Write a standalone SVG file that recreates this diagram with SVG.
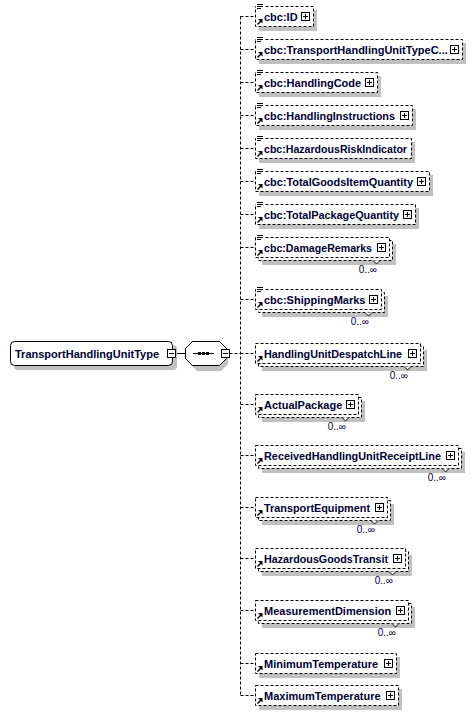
<svg xmlns="http://www.w3.org/2000/svg" width="472" height="715" viewBox="0 0 472 715">
<style>
.sh{fill:#c0c0c0}
.bx{fill:#fff;stroke:#000;stroke-width:1;stroke-dasharray:3 2}
.sb{fill:#fff;stroke:#000;stroke-width:1}
.t{font-family:"Liberation Sans",Arial,sans-serif;font-weight:bold;font-size:11px;fill:#000033}
.m{font-family:"Liberation Sans",Arial,sans-serif;font-size:10px;fill:#000033}
.cn{fill:none;stroke:#000;stroke-width:1;stroke-dasharray:3 2}
.ln{fill:none;stroke:#000;stroke-width:1}
</style>
<defs>
<g id="doc"><rect x="256" y="-13" width="8" height="6" fill="#fff"/><path d="M257 -11.5h6M257 -9.5h6M257 -7.5h4" class="ln"/></g>
<g id="ref"><path d="M257.5 8.5L261 5" stroke="#000" stroke-width="1.4"/><path d="M262.5 3L262.5 7.5L258 3Z" fill="#000"/></g>
<g id="plus"><rect x="0.5" y="-3.5" width="8" height="8" class="sb"/><path d="M2 0.5h5M4.5 -2v5" class="ln"/></g>
<g id="minus"><rect x="0.5" y="-3.5" width="8" height="8" class="sb"/><path d="M2 0.5h5" class="ln"/></g>
</defs>

<g id="connectors">
<path class="ln" d="M175.5 353.5H185.5"/>
<path class="cn" d="M229.5 353.5H240.5"/>
<path class="cn" d="M240.5 16.5V695.5"/>
<path class="cn" d="M240.5 16.5H255M240.5 49.5H255M240.5 82.5H255M240.5 115.5H255M240.5 148.5H255M240.5 181.5H255M240.5 214.5H255M240.5 247.5H255M240.5 299.5H255M240.5 353.5H255M240.5 404.5H255M240.5 455.5H255M240.5 507.5H255M240.5 558.5H255M240.5 610.5H255M240.5 663.5H255M240.5 695.5H255"/>
</g>

<g id="root">
<rect class="sh" x="14" y="345" width="163" height="25" rx="4"/>
<rect class="sb" x="10.5" y="341.5" width="162" height="24" rx="4"/>
<text class="t" x="15" y="357.5">TransportHandlingUnitType</text>
<use href="#minus" x="167" y="353"/>
</g>

<g id="sequence">
<path class="sh" d="M195 345H219L226 352V364L219 371H195L188 364V352Z" transform="translate(2,0)"/>
<path class="sb" d="M192.5 341.5H219.5L226.5 348.5V358.5L219.5 365.5H192.5L185.5 358.5V348.5Z"/>
<path class="ln" d="M193 353.5H214"/>
<rect x="198" y="352" width="3" height="3" fill="#000"/>
<rect x="202" y="352" width="3" height="3" fill="#000"/>
<rect x="206" y="352" width="3" height="3" fill="#000"/>
<use href="#minus" x="221" y="353"/>
</g>

<g id="n1">
<rect class="sh" x="259" y="10" width="58" height="21"/>
<rect class="bx" x="255.5" y="6.5" width="58" height="20"/>
<use href="#doc" y="16"/><use href="#ref" y="16"/>
<text class="t" x="264" y="20.5">cbc:ID</text>
<use href="#plus" x="301" y="16"/>
</g>

<g id="n2">
<rect class="sh" x="259" y="43" width="207" height="21"/>
<rect class="bx" x="255.5" y="39.5" width="207" height="20"/>
<use href="#doc" y="49"/><use href="#ref" y="49"/>
<text class="t" x="264" y="53.5">cbc:TransportHandlingUnitTypeC...</text>
<use href="#plus" x="450" y="49"/>
</g>

<g id="n3">
<rect class="sh" x="259" y="76" width="122" height="21"/>
<rect class="bx" x="255.5" y="72.5" width="122" height="20"/>
<use href="#doc" y="82"/><use href="#ref" y="82"/>
<text class="t" x="264" y="86.5">cbc:HandlingCode</text>
<use href="#plus" x="365" y="82"/>
</g>

<g id="n4">
<rect class="sh" x="259" y="109" width="157" height="21"/>
<rect class="bx" x="255.5" y="105.5" width="157" height="20"/>
<use href="#doc" y="115"/><use href="#ref" y="115"/>
<text class="t" x="264" y="119.5" textLength="131" lengthAdjust="spacingAndGlyphs">cbc:HandlingInstructions</text>
<use href="#plus" x="400" y="115"/>
</g>

<g id="n5">
<rect class="sh" x="259" y="142" width="156" height="21"/>
<rect class="bx" x="255.5" y="138.5" width="156" height="20"/>
<use href="#doc" y="148"/><use href="#ref" y="148"/>
<text class="t" x="264" y="152.5" textLength="143" lengthAdjust="spacingAndGlyphs">cbc:HazardousRiskIndicator</text>
</g>

<g id="n6">
<rect class="sh" x="259" y="175" width="174" height="21"/>
<rect class="bx" x="255.5" y="171.5" width="174" height="20"/>
<use href="#doc" y="181"/><use href="#ref" y="181"/>
<text class="t" x="264" y="185.5" textLength="149" lengthAdjust="spacingAndGlyphs">cbc:TotalGoodsItemQuantity</text>
<use href="#plus" x="417" y="181"/>
</g>

<g id="n7">
<rect class="sh" x="259" y="208" width="160" height="21"/>
<rect class="bx" x="255.5" y="204.5" width="160" height="20"/>
<use href="#doc" y="214"/><use href="#ref" y="214"/>
<text class="t" x="264" y="218.5" textLength="135" lengthAdjust="spacingAndGlyphs">cbc:TotalPackageQuantity</text>
<use href="#plus" x="403" y="214"/>
</g>

<g id="n8">
<rect class="sh" x="262" y="244" width="134" height="21"/>
<rect class="bx" x="258.5" y="240.5" width="134" height="20"/>
<rect class="bx" x="255.5" y="237.5" width="134" height="20"/>
<path class="sb" d="M373 260.5L376.5 264L380 260.5"/>
<use href="#doc" y="247"/><use href="#ref" y="247"/>
<text class="t" x="264" y="251.5" textLength="108" lengthAdjust="spacingAndGlyphs">cbc:DamageRemarks</text>
<use href="#plus" x="377" y="247"/>
<text class="m" x="377" y="273" text-anchor="end">0..∞</text>
</g>

<g id="n9">
<rect class="sh" x="262" y="296" width="126" height="21"/>
<rect class="bx" x="258.5" y="292.5" width="126" height="20"/>
<rect class="bx" x="255.5" y="289.5" width="126" height="20"/>
<path class="sb" d="M365 312.5L368.5 316L372 312.5"/>
<use href="#doc" y="299"/><use href="#ref" y="299"/>
<text class="t" x="264" y="303.5">cbc:ShippingMarks</text>
<use href="#plus" x="369" y="299"/>
<text class="m" x="369" y="325" text-anchor="end">0..∞</text>
</g>

<g id="n10">
<rect class="sh" x="262" y="350" width="165" height="21"/>
<rect class="bx" x="258.5" y="346.5" width="165" height="20"/>
<rect class="bx" x="255.5" y="343.5" width="165" height="20"/>
<path class="sb" d="M404 366.5L407.5 370L411 366.5"/>
<use href="#ref" y="353"/>
<text class="t" x="264" y="357.5" textLength="138" lengthAdjust="spacingAndGlyphs">HandlingUnitDespatchLine</text>
<use href="#plus" x="408" y="353"/>
<text class="m" x="408" y="379" text-anchor="end">0..∞</text>
</g>

<g id="n11">
<rect class="sh" x="262" y="401" width="103" height="21"/>
<rect class="bx" x="258.5" y="397.5" width="103" height="20"/>
<rect class="bx" x="255.5" y="394.5" width="103" height="20"/>
<path class="sb" d="M342 417.5L345.5 421L349 417.5"/>
<use href="#ref" y="404"/>
<text class="t" x="264" y="408.5">ActualPackage</text>
<use href="#plus" x="346" y="404"/>
<text class="m" x="346" y="430" text-anchor="end">0..∞</text>
</g>

<g id="n12">
<rect class="sh" x="262" y="452" width="203" height="21"/>
<rect class="bx" x="258.5" y="448.5" width="203" height="20"/>
<rect class="bx" x="255.5" y="445.5" width="203" height="20"/>
<path class="sb" d="M442 468.5L445.5 472L449 468.5"/>
<use href="#ref" y="455"/>
<text class="t" x="264" y="459.5" textLength="177" lengthAdjust="spacingAndGlyphs">ReceivedHandlingUnitReceiptLine</text>
<use href="#plus" x="446" y="455"/>
<text class="m" x="446" y="481" text-anchor="end">0..∞</text>
</g>

<g id="n13">
<rect class="sh" x="262" y="504" width="132" height="21"/>
<rect class="bx" x="258.5" y="500.5" width="132" height="20"/>
<rect class="bx" x="255.5" y="497.5" width="132" height="20"/>
<path class="sb" d="M371 520.5L374.5 524L378 520.5"/>
<use href="#ref" y="507"/>
<text class="t" x="264" y="511.5" textLength="106" lengthAdjust="spacingAndGlyphs">TransportEquipment</text>
<use href="#plus" x="375" y="507"/>
<text class="m" x="375" y="533" text-anchor="end">0..∞</text>
</g>

<g id="n14">
<rect class="sh" x="262" y="555" width="150" height="21"/>
<rect class="bx" x="258.5" y="551.5" width="150" height="20"/>
<rect class="bx" x="255.5" y="548.5" width="150" height="20"/>
<path class="sb" d="M389 571.5L392.5 575L396 571.5"/>
<use href="#ref" y="558"/>
<text class="t" x="264" y="562.5" textLength="124" lengthAdjust="spacingAndGlyphs">HazardousGoodsTransit</text>
<use href="#plus" x="393" y="558"/>
<text class="m" x="393" y="584" text-anchor="end">0..∞</text>
</g>

<g id="n15">
<rect class="sh" x="262" y="607" width="153" height="21"/>
<rect class="bx" x="258.5" y="603.5" width="153" height="20"/>
<rect class="bx" x="255.5" y="600.5" width="153" height="20"/>
<path class="sb" d="M392 623.5L395.5 627L399 623.5"/>
<use href="#ref" y="610"/>
<text class="t" x="264" y="614.5">MeasurementDimension</text>
<use href="#plus" x="396" y="610"/>
<text class="m" x="396" y="636" text-anchor="end">0..∞</text>
</g>

<g id="n16">
<rect class="sh" x="259" y="657" width="141" height="21"/>
<rect class="bx" x="255.5" y="653.5" width="141" height="20"/>
<use href="#ref" y="663"/>
<text class="t" x="264" y="667.5">MinimumTemperature</text>
<use href="#plus" x="384" y="663"/>
</g>

<g id="n17">
<rect class="sh" x="259" y="689" width="143" height="21"/>
<rect class="bx" x="255.5" y="685.5" width="143" height="20"/>
<use href="#ref" y="695"/>
<text class="t" x="264" y="699.5">MaximumTemperature</text>
<use href="#plus" x="386" y="695"/>
</g>
</svg>
